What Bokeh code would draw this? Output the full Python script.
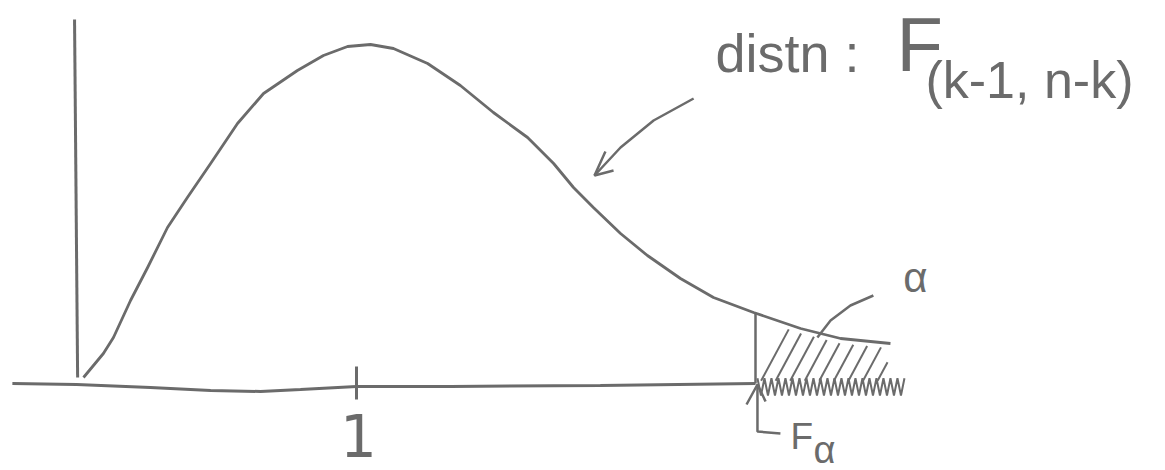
import numpy as np
from bokeh.plotting import figure
from bokeh.models import Range1d
from bokeh.core.properties import value
from bokeh.embed import file_html
from bokeh.resources import INLINE

# ---- data (x = F value, y = density) ----
curve_x = [0.025, 0.096, 0.132, 0.193, 0.254, 0.325, 0.396, 0.479, 0.575, 0.668,
           0.789, 0.882, 0.968, 1.050, 1.132, 1.254, 1.371, 1.489, 1.611, 1.704,
           1.775, 1.846, 1.943, 2.039, 2.157, 2.275, 2.418, 2.586, 2.729, 2.907]
curve_y = [0.020, 0.080, 0.120, 0.2125, 0.295, 0.395, 0.470, 0.555, 0.655, 0.730,
           0.7875, 0.825, 0.8475, 0.8525, 0.8425, 0.805, 0.750, 0.6825, 0.620, 0.555,
           0.495, 0.445, 0.380, 0.325, 0.2675, 0.220, 0.1825, 0.1425, 0.1175, 0.105]

base_x = [-0.229, 0.0, 0.264, 0.479, 0.657, 0.800, 1.000, 1.336, 1.871, 2.425]
base_y = [0.005, 0.0025, -0.005, -0.0125, -0.015, -0.010, -0.0025, -0.0025, 0.0, 0.005]

vaxis_x = [-0.007, 0.004]
vaxis_y = [0.915, 0.020]

tick_value = 1.0
tick_label = "1"
F_alpha = 2.425
zig_end = 2.96

title_text = "distn :"
title_F = "F"
title_sub = "(k-1, n-k)"
alpha_text = "α"
Falpha_F = "F"
Falpha_sub = "α"

# annotation strokes (data units)
arrow_x = [2.204, 2.061, 1.943, 1.850]
arrow_y = [0.7175, 0.6625, 0.595, 0.525]
arrow_barb_x = [1.889, 1.850, 1.918]
arrow_barb_y = [0.585, 0.525, 0.5375]
lead_x = [2.846, 2.764, 2.693, 2.646]
lead_y = [0.225, 0.200, 0.1625, 0.120]
fa_stem_x = [2.514, 2.432, 2.432]
fa_stem_y = [-0.120, -0.115, -0.0025]
fa_barb_x = [2.393, 2.432, 2.461]
fa_barb_y = [-0.0475, 0.0025, -0.040]

INK = "#6b6b6b"
FONT = value("Liberation Sans")
FONT1 = value("DejaVu Sans")

W, H = 1165, 470
p = figure(width=W, height=H, output_backend="svg", toolbar_location=None,
           x_axis_location=None, y_axis_location=None,
           x_range=Range1d(-76 / 280, 1089 / 280), y_range=Range1d(-85 / 400, 385 / 400),
           min_border=0)
p.grid.visible = False
p.outline_line_color = None
p.background_fill_color = "white"
p.border_fill_color = "white"

# axes
p.line(vaxis_x, vaxis_y, line_color=INK, line_width=3)
p.line(base_x, base_y, line_color=INK, line_width=3)
p.segment(x0=[tick_value], y0=[0.0475], x1=[tick_value], y1=[-0.035], line_color=INK, line_width=3)

# density curve
p.line(curve_x, curve_y, line_color=INK, line_width=2.8, line_join="round")

# rejection region
def curve_at(x):
    return np.interp(x, curve_x, curve_y)

p.segment(x0=[F_alpha], y0=[0.005], x1=[F_alpha], y1=[float(curve_at(F_alpha))],
          line_color=INK, line_width=2.5)

hx, hy = [], []
for x0 in F_alpha + 0.02 + 0.052 * np.arange(9):
    t = np.linspace(0, 0.3, 600)
    lx = x0 + t
    ly = 0.012 + 1.3 * t
    ok = (ly < curve_at(lx) - 0.012) & (lx < curve_x[-1] - 0.01)
    idx = np.where(~ok)[0]
    end = idx[0] if len(idx) else len(t)
    if end > 5:
        hx.append([lx[0], lx[end - 1]])
        hy.append([ly[0], ly[end - 1]])
p.multi_line(hx, hy, line_color=INK, line_width=2)

zx = np.arange(F_alpha + 0.007, zig_end, 0.0125)
zy = np.where(np.arange(len(zx)) % 2 == 0, 0.018, -0.025)
p.line(zx, zy, line_color=INK, line_width=2)

# annotation strokes
p.line(arrow_x, arrow_y, line_color=INK, line_width=2.5, line_join="round")
p.line(arrow_barb_x, arrow_barb_y, line_color=INK, line_width=2.5)
p.line(lead_x, lead_y, line_color=INK, line_width=2.5, line_join="round")
p.line(fa_stem_x, fa_stem_y, line_color=INK, line_width=2.5)
p.line(fa_barb_x, fa_barb_y, line_color=INK, line_width=2.5)

# texts
def txt(x, y, s, size, align="left", font=FONT):
    p.text(x=[x], y=[y], text=[s], text_font=font, text_font_size=f"{size}px",
           text_color=INK, text_align=align, text_baseline="alphabetic")

txt(2.282, 0.8325, title_text, 54)
txt(2.929, 0.8525, title_F, 76)
txt(3.032, 0.763, title_sub, 52)
txt(tick_value + 0.007, -0.125, tick_label, 58, align="center", font=FONT1)
txt(2.996, 0.270, alpha_text, 42, align="center")
txt(2.550, -0.1275, Falpha_F, 37)
txt(2.632, -0.160, Falpha_sub, 38)

open("out.html", "w").write(file_html(p, INLINE))
